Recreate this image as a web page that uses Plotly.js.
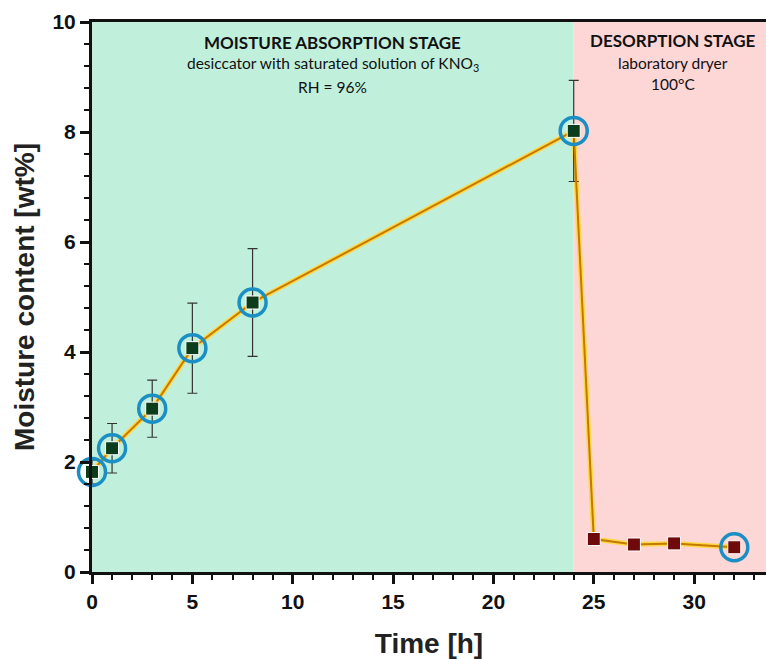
<!DOCTYPE html>
<html><head><meta charset="utf-8">
<script src="https://cdn.plot.ly/plotly-3.0.1.min.js"></script>
<style>body{margin:0;background:#fff}#c{width:766px;height:659px}</style>
</head><body><div id="c"></div>
<script>
const time = [0, 1, 3, 5, 8, 24, 25, 27, 29, 32];
const moisture = [1.82, 2.25, 2.97, 4.07, 4.9, 8.02, 0.6, 0.5, 0.52, 0.45];
const errorVal = [0.22, 0.45, 0.52, 0.82, 0.98, 0.92, 0.04, 0.04, 0.08, 0.08];
const markerColors = ['#0b3d1c','#0b3d1c','#0b3d1c','#0b3d1c','#0b3d1c','#0b3d1c','#6e0a0a','#6e0a0a','#6e0a0a','#6e0a0a'];
const circledTime = [0, 1, 3, 5, 8, 24, 32];
const circledMoisture = [1.82, 2.25, 2.97, 4.07, 4.9, 8.02, 0.45];
const stageBoundary = 24;

const traces = [
  {x: time, y: moisture, mode: 'lines', line: {color: '#ffd84a', width: 5}, hoverinfo: 'skip', showlegend: false, cliponaxis: false},
  {x: time, y: moisture, mode: 'lines', line: {color: '#c47a00', width: 2}, showlegend: false, cliponaxis: false,
   error_y: {type: 'data', array: errorVal, visible: true, color: '#333', thickness: 1.2, width: 5}},
  {x: time, y: moisture, mode: 'markers', showlegend: false, cliponaxis: false,
   marker: {symbol: 'square', size: 13, color: markerColors, line: {color: '#ffffff', width: 1}}},
  {x: circledTime, y: circledMoisture, mode: 'markers', showlegend: false, cliponaxis: false,
   marker: {symbol: 'circle-open', size: 27, color: '#1b8fc4', line: {color: '#1b8fc4', width: 3.5}}}
];

const layout = {
  width: 766, height: 659,
  margin: {l: 92, r: 0, t: 22, b: 87},
  paper_bgcolor: '#ffffff',
  plot_bgcolor: '#ffffff',
  font: {family: 'Liberation Sans, Arial, sans-serif', color: '#111'},
  xaxis: {
    range: [0, 33.58], showgrid: false, zeroline: false,
    showline: true, linecolor: '#111', linewidth: 3, mirror: true,
    ticks: 'outside', ticklen: 9, tickwidth: 3, tickcolor: '#111',
    dtick: 5, tick0: 0,
    minor: {dtick: 1, ticks: 'outside', ticklen: 5, tickwidth: 2, tickcolor: '#111'},
    tickfont: {size: 21, family: 'Liberation Sans, Arial, sans-serif', weight: 'bold'},
    title: {text: '<b>Time [h]</b>', font: {size: 28, color: '#222'}, standoff: 24}
  },
  yaxis: {
    range: [0, 10], showgrid: false, zeroline: false,
    showline: true, linecolor: '#111', linewidth: 3,
    ticks: 'outside', ticklen: 9, tickwidth: 3, tickcolor: '#111',
    dtick: 2, tick0: 0,
    minor: {dtick: 0.4, ticks: 'outside', ticklen: 5, tickwidth: 2, tickcolor: '#111'},
    tickfont: {size: 21, family: 'Liberation Sans, Arial, sans-serif', weight: 'bold'},
    title: {text: '<b>Moisture content [wt%]</b>', font: {size: 28, color: '#222'}, standoff: 10}
  },
  shapes: [
    {type: 'rect', xref: 'x', yref: 'paper', x0: 0, x1: stageBoundary, y0: 0, y1: 1, fillcolor: '#c0f0dc', line: {width: 0}, layer: 'below'},
    {type: 'rect', xref: 'x', yref: 'paper', x0: stageBoundary, x1: 33.58, y0: 0, y1: 1, fillcolor: '#fdd6d6', line: {width: 0}, layer: 'below'}
  ],
  annotations: [
    {xref: 'x', yref: 'paper', x: 12.0, y: 0.9636, yanchor: 'middle', text: '<b>MOISTURE ABSORPTION STAGE</b>', showarrow: false, font: {family: 'Lato', size: 17, color: '#111'}},
    {xref: 'x', yref: 'paper', x: 12.0, y: 0.9245, yanchor: 'middle', text: 'desiccator with saturated solution of KNO<sub>3</sub>', showarrow: false, font: {family: 'Lato', size: 15.5, color: '#111'}},
    {xref: 'x', yref: 'paper', x: 12.0, y: 0.882, yanchor: 'middle', text: 'RH = 96%', showarrow: false, font: {family: 'Lato', size: 15.5, color: '#111'}},
    {xref: 'x', yref: 'paper', x: 28.95, y: 0.9655, yanchor: 'middle', text: '<b>DESORPTION STAGE</b>', showarrow: false, font: {family: 'Lato', size: 17, color: '#111'}},
    {xref: 'x', yref: 'paper', x: 28.95, y: 0.9255, yanchor: 'middle', text: 'laboratory dryer', showarrow: false, font: {family: 'Lato', size: 15.5, color: '#111'}},
    {xref: 'x', yref: 'paper', x: 28.95, y: 0.887, yanchor: 'middle', text: '100°C', showarrow: false, font: {family: 'Lato', size: 15.5, color: '#111'}}
  ]
};
Plotly.newPlot('c', traces, layout, {displayModeBar: false, staticPlot: true});
</script></body></html>
